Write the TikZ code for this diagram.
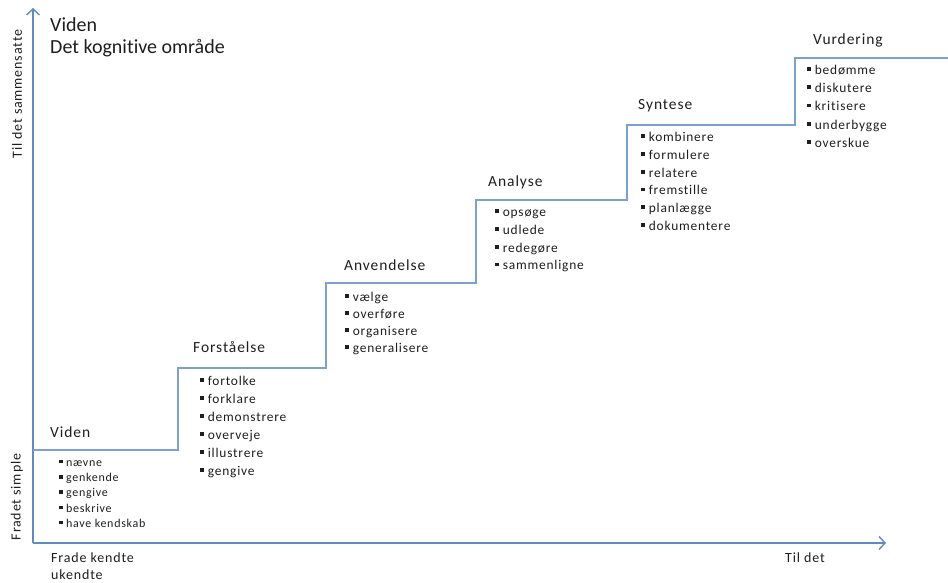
\documentclass[tikz,border=0pt]{standalone}
\usepackage{fontspec}
\setmainfont{Carlito}[Ligatures=NoCommon]
\newfontfamily\spfont[LetterSpace=6,Ligatures=NoCommon]{Carlito}
\usetikzlibrary{arrows.meta}
\definecolor{axisblue}{RGB}{95,138,196}
\definecolor{stairblue}{RGB}{122,160,212}
\definecolor{txt}{RGB}{30,30,30}
\newcommand{\bul}{\rule[0.25em]{0.29em}{0.29em}\hspace{0.28em}}
\begin{document}
\begin{tikzpicture}[x=1pt,y=-1pt,
  ttl/.style={anchor=west,inner sep=0pt,text=txt,font=\fontsize{20}{24}\selectfont},
  steplbl/.style={anchor=west,inner sep=0pt,text=txt,text height=0.7em,text depth=0.22em,font=\spfont\fontsize{15.5}{18}\selectfont},
  item/.style={anchor=west,inner sep=0pt,text=txt,text height=0.7em,text depth=0.22em,font=\spfont\fontsize{13.4}{16}\selectfont},
  smallitem/.style={item,font=\spfont\fontsize{12}{14}\selectfont},
  axlbl/.style={inner sep=0pt,text=txt,font=\spfont\fontsize{14}{17}\selectfont},
  axisline/.style={draw=axisblue,line width=1.4pt},
  stair/.style={draw=stairblue,line width=1.5pt}]
\useasboundingbox (0,0) rectangle (948,582);

% axes
\coordinate (O) at (33,543);
\coordinate (Ytop) at (33,8);
\coordinate (Xend) at (886,543);
\draw[axisline,-{Straight Barb[length=6pt,width=13pt,line width=1.4pt]}] (O) -- (Ytop);
\draw[axisline,-{Straight Barb[length=6pt,width=13pt,line width=1.4pt]}] (O) -- (Xend);

% staircase
\draw[stair] (33,450) -| (178,368) -| (326,283) -| (476,200) -| (627,125) -| (795,58) -- (948,58);

% title
\node[ttl] (t1) at (50,25) {Viden};
\node[ttl] (t2) at (50,48) {Det kognitive område};

% axis labels
\node[axlbl,rotate=90] (ya) at (17,94) {Til det sammensatte};
\node[axlbl,rotate=90] (yb) at (17,497) {Fradet simple};
\node[axlbl,anchor=west] (xa) at (51,558) {Frade kendte};
\node[axlbl,anchor=west] (xb) at (51,575) {ukendte};
\node[axlbl,anchor=west] (xc) at (785,558) {Til det};

% step labels
\node[steplbl] (s1) at (50,435) {Viden};
\node[steplbl] (s2) at (193,350) {Forståelse};
\node[steplbl] (s3) at (344,268) {Anvendelse};
\node[steplbl] (s4) at (488,184) {Analyse};
\node[steplbl] (s5) at (638,107) {Syntese};
\node[steplbl] (s6) at (813,42) {Vurdering};

% lists
\foreach \t [count=\i] in {nævne,genkende,gengive,beskrive,have kendskab}
  \node[smallitem] (a\i) at (59,{464+(\i-1)*15.2}) {\bul\t};
\foreach \t [count=\i] in {fortolke,forklare,demonstrere,overveje,illustrere,gengive}
  \node[item] (b\i) at (200,{383+(\i-1)*18}) {\bul\t};
\foreach \t [count=\i] in {vælge,overføre,organisere,generalisere}
  \node[item] (c\i) at (345,{299+(\i-1)*17}) {\bul\t};
\foreach \t [count=\i] in {opsøge,udlede,redegøre,sammenligne}
  \node[item] (d\i) at (495,{214+(\i-1)*17.8}) {\bul\t};
\foreach \t [count=\i] in {kombinere,formulere,relatere,fremstille,planlægge,dokumentere}
  \node[item] (e\i) at (641,{139+(\i-1)*17.8}) {\bul\t};
\foreach \t [count=\i] in {bedømme,diskutere,kritisere,underbygge,overskue}
  \node[item] (f\i) at (807,{72+(\i-1)*18.2}) {\bul\t};
\end{tikzpicture}
\end{document}
